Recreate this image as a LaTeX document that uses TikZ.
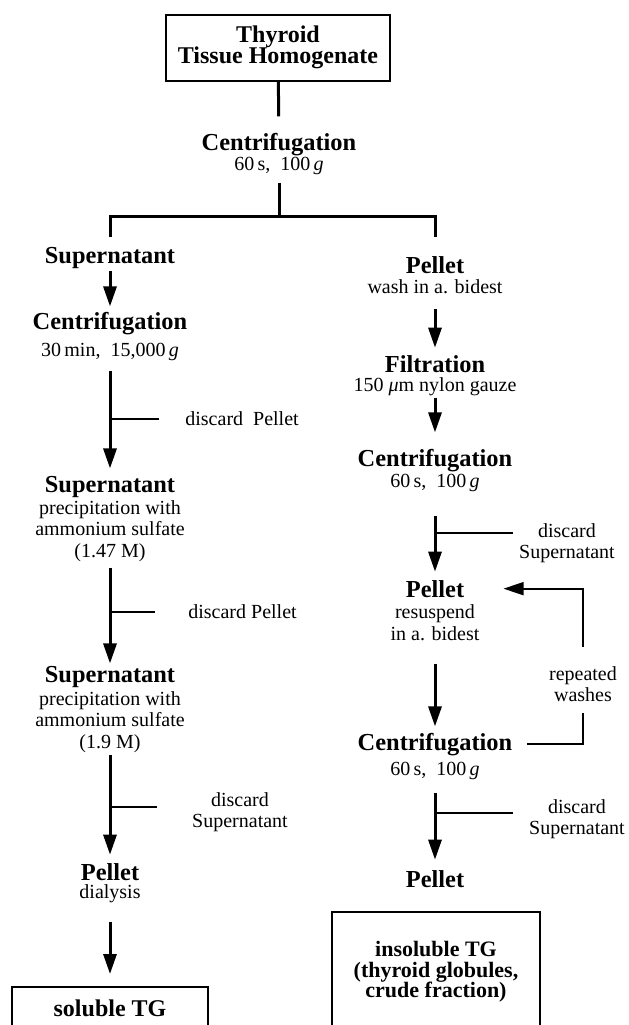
\documentclass[tikz,border=0pt]{standalone}
\usepackage{fontspec}
\setmainfont{Liberation Serif}
\usetikzlibrary{arrows.meta,calc}
\setlength{\lineskiplimit}{-10pt}

\begin{document}
\begin{tikzpicture}
  [ x=0.5pt, y=-0.5pt,
    head/.style={
      font=\fontsize{12.2}{13}\selectfont\bfseries,
      inner sep=1pt,
      anchor=base},
    note/.style={
      font=\fontsize{10}{10.75}\selectfont,
      inner sep=1pt,
      align=center,
      anchor=base},
    result/.style={
      draw,
      line width=1pt,
      font=\fontsize{12}{10.8}\selectfont\bfseries,
      align=center},
    line/.style={
      draw,
      line width=1.5pt},
    arrow/.style={
      line,
      -{Triangle[length=10pt,width=6.5pt]}},
    branch/.style={
      draw,
      line width=0.9pt},
  ]
  \useasboundingbox (0,0) rectangle (628,1025);

  % homogenate and first spin
  \node (homog) [result, minimum width=112pt, minimum height=33pt] at (278,47.5) {Thyroid\\Tissue Homogenate};
  \node (cen0) [head] at (279,150) {Centrifugation};
  \node (cen0s) [note] at (279,170) {60\,s,\ \ 100\,\textit{g}};
  \coordinate (split) at (279,216);

  % soluble side (multi-line notes sit on their last baseline)
  \node (sup1) [head] at (110,263) {Supernatant};
  \node (cen1) [head] at (110,329) {Centrifugation};
  \node (cen1s) [note] at (110,356) {30\,min,\ \ 15,000\,\textit{g}};
  \coordinate (b1) at (110,419);
  \node (dis1) [note, anchor=west] at (183,419) {discard\ \ Pellet};
  \node (sup2) [head] at (110,492) {Supernatant};
  \node (sup2s) [note] at (110,557) {precipitation with\\ammonium sulfate\\(1.47 M)};
  \coordinate (b2) at (110,612);
  \node (dis2) [note, anchor=west] at (186,612) {discard Pellet};
  \node (sup3) [head] at (110,682) {Supernatant};
  \node (sup3s) [note] at (110,748) {precipitation with\\ammonium sulfate\\(1.9 M)};
  \coordinate (b3) at (110,807);
  \node (dis3) [note, anchor=center] at (240,812) {discard\\Supernatant};
  \node (pelL) [head] at (110,880) {Pellet};
  \node (pelLs) [note] at (110,898) {dialysis};
  \node (soluble) [result, minimum width=98pt, minimum height=21pt] at (110,1008) {soluble TG};

  % insoluble side
  \node (pel1) [head] at (435,273) {Pellet};
  \node (pel1s) [note] at (435,293) {wash in a. bidest};
  \node (fil) [head] at (435,372) {Filtration};
  \node (fils) [note] at (435,391) {150 \textit{μ}m nylon gauze};
  \node (cen2) [head] at (435,466) {Centrifugation};
  \node (cen2s) [note] at (435,487) {60\,s,\ \ 100\,\textit{g}};
  \coordinate (b4) at (435,533);
  \node (dis4) [note, anchor=center] at (567,543) {discard\\Supernatant};
  \node (pel2) [head] at (435,597) {Pellet};
  \node (pel2s) [note] at (435,640) {resuspend\\in a. bidest};
  \node (cen3) [head] at (435,750) {Centrifugation};
  \node (cen3s) [note] at (435,775) {60\,s,\ \ 100\,\textit{g}};
  \node (rep) [note, anchor=center] at (583,684) {repeated\\washes};
  \coordinate (b5) at (435,813);
  \node (dis5) [note, anchor=center] at (577,819) {discard\\Supernatant};
  \node (pel3) [head] at (435,887) {Pellet};
  \node (insoluble) [result, minimum width=104pt, minimum height=60pt,
    font=\fontsize{11}{10.3}\selectfont\bfseries] at (436,972) {insoluble TG\\(thyroid globules,\\crude fraction)};

  \draw[line, shorten >=7pt] (homog) -- (cen0);
  \draw[line, shorten <=3pt] (cen0s) -- (split);
  \draw[line, shorten >=3.5pt] (split) -| (sup1);
  \draw[line, shorten >=8.5pt] (split) -| (pel1);

  \draw[arrow, shorten >=1.5pt] (sup1) -- (cen1);
  \draw[arrow, shorten <=4pt, shorten >=2.5pt] (cen1s) -- (sup2);
  \draw[branch, shorten >=12pt] (b1) -- (dis1);
  \draw[arrow, shorten <=2pt] (sup2s) -- (sup3);
  \draw[branch, shorten >=15.5pt] (b2) -- (dis2);
  \draw[arrow, shorten >=3pt] (sup3s) -- (pelL);
  \draw[branch, shorten >=16.5pt] (b3) -- (b3 -| dis3.west);
  \draw[arrow, shorten <=8.5pt, shorten >=6pt] (pelLs) -- (soluble);

  \draw[arrow, shorten <=6.5pt, shorten >=2.5pt] (pel1s) -- (fil);
  \draw[arrow, shorten >=7pt] (fils) -- (cen2);
  \draw[arrow, shorten <=11pt, shorten >=3pt] (cen2s) -- (pel2);
  \draw[branch, shorten >=2pt] (b4) -- (b4 -| dis4.west);
  \draw[arrow, shorten <=10.5pt, shorten >=2pt] (pel2s) -- (cen3);
  \draw[branch, shorten <=6pt, shorten >=4.5pt] (cen3.east) -| (rep);
  \draw[branch, -{Triangle[length=10pt,width=6.5pt]}, shorten <=8.5pt, shorten >=18.5pt] (rep) |- (pel2);
  \draw[arrow, shorten <=5.5pt, shorten >=4pt] (cen3s) -- (pel3);
  \draw[branch, shorten >=7pt] (b5) -- (b5 -| dis5.west);
\end{tikzpicture}
\end{document}
